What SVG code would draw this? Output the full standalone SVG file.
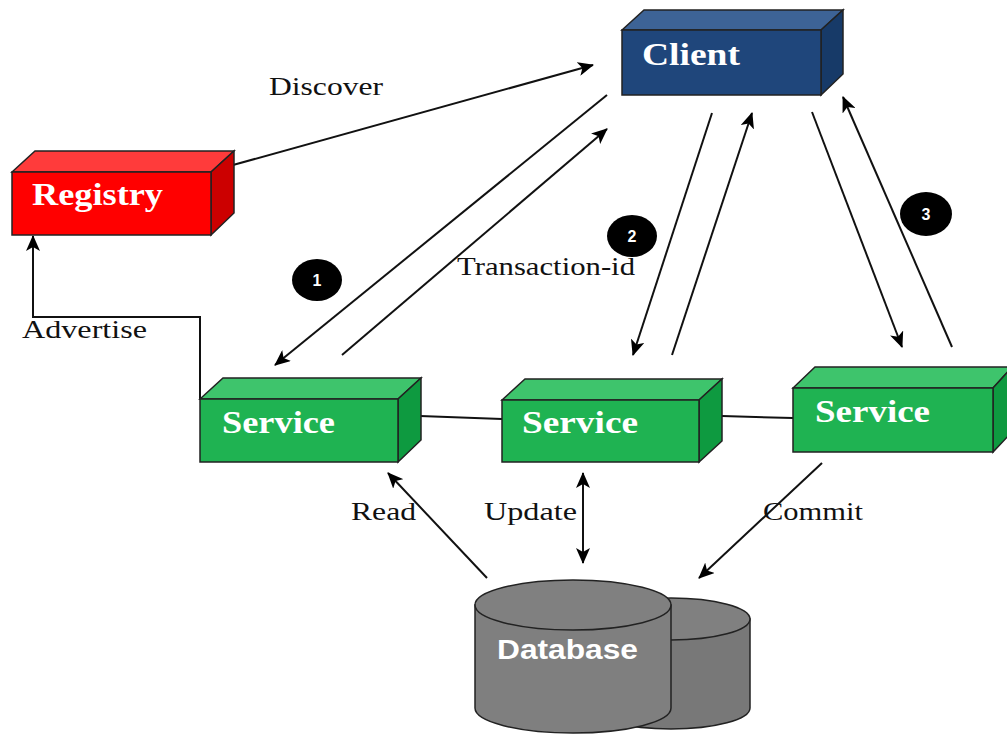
<svg xmlns="http://www.w3.org/2000/svg" width="1007" height="740" viewBox="0 0 1007 740">
<style>
.ln{stroke:#111;stroke-width:2;fill:none}
.lbl{font-family:"Liberation Serif",serif;font-size:26px;fill:#111}
.ttl{font-family:"Liberation Serif",serif;font-size:31px;font-weight:bold;fill:#fff}
.edge{stroke:#222;stroke-width:1.5}
.badge{fill:#000}
.num{font-family:"Liberation Sans",sans-serif;font-size:16px;font-weight:bold;fill:#fff;text-anchor:middle}
</style>
<defs>
<marker id="ah" markerUnits="userSpaceOnUse" markerWidth="16" markerHeight="14" refX="15" refY="7" orient="auto-start-reverse" viewBox="0 0 16 14">
<path d="M0,0 L16,7 L0,14 L4,7 Z" fill="#000"/>
</marker>
</defs>
<rect width="1007" height="740" fill="#fff"/>

<g id="connectors">
<line class="ln" x1="233" y1="165" x2="593" y2="65" marker-end="url(#ah)"/>
<line class="ln" x1="607" y1="95" x2="275" y2="365" marker-end="url(#ah)"/>
<line class="ln" x1="342" y1="355" x2="607" y2="129" marker-end="url(#ah)"/>
<line class="ln" x1="712" y1="113" x2="633" y2="355" marker-end="url(#ah)"/>
<line class="ln" x1="672" y1="355" x2="752" y2="113" marker-end="url(#ah)"/>
<line class="ln" x1="812" y1="112" x2="902" y2="347" marker-end="url(#ah)"/>
<line class="ln" x1="952" y1="347" x2="843" y2="97" marker-end="url(#ah)"/>
<polyline class="ln" points="200,400 200,317 33,317 33,236" marker-end="url(#ah)"/>
<line class="ln" x1="487" y1="578" x2="388" y2="473" marker-end="url(#ah)"/>
<line class="ln" x1="583" y1="473" x2="583" y2="563" marker-start="url(#ah)" marker-end="url(#ah)"/>
<line class="ln" x1="822" y1="463" x2="699" y2="578" marker-end="url(#ah)"/>
<line class="ln" x1="420" y1="416" x2="502" y2="419"/>
<line class="ln" x1="722" y1="416" x2="793" y2="418"/>
</g>

<g id="labels">
<text class="lbl" x="269" y="95" textLength="114" lengthAdjust="spacingAndGlyphs">Discover</text>
<text class="lbl" x="457" y="275" textLength="178" lengthAdjust="spacingAndGlyphs">Transaction-id</text>
<text class="lbl" x="22" y="338" textLength="125" lengthAdjust="spacingAndGlyphs">Advertise</text>
<text class="lbl" x="351" y="520" textLength="65" lengthAdjust="spacingAndGlyphs">Read</text>
<text class="lbl" x="484" y="520" textLength="93" lengthAdjust="spacingAndGlyphs">Update</text>
<text class="lbl" x="763" y="520" textLength="100" lengthAdjust="spacingAndGlyphs">Commit</text>
</g>

<g id="client">
<polygon class="edge" points="622,30 644,10 843,10 821,30" fill="#3d6396"/>
<polygon class="edge" points="821,30 843,10 843,74 821,95" fill="#173a68"/>
<rect class="edge" x="622" y="30" width="199" height="65" fill="#1f467b"/>
<text class="ttl" x="642" y="65" textLength="98" lengthAdjust="spacingAndGlyphs">Client</text>
</g>

<g id="registry">
<polygon class="edge" points="12,172 35,151 234,151 211,172" fill="#ff3b3b"/>
<polygon class="edge" points="211,172 234,151 234,213 211,235" fill="#cc0000"/>
<rect class="edge" x="12" y="172" width="199" height="63" fill="#ff0000"/>
<text class="ttl" x="32" y="205" textLength="131" lengthAdjust="spacingAndGlyphs">Registry</text>
</g>

<g id="service1">
<polygon class="edge" points="200,399 223,378 421,378 398,399" fill="#3ec46c"/>
<polygon class="edge" points="398,399 421,378 421,440 398,462" fill="#0e9a40"/>
<rect class="edge" x="200" y="399" width="198" height="63" fill="#1fb352"/>
<text class="ttl" x="222" y="433" textLength="113" lengthAdjust="spacingAndGlyphs">Service</text>
</g>

<g id="service2">
<polygon class="edge" points="502,400 525,379 722,379 699,400" fill="#3ec46c"/>
<polygon class="edge" points="699,400 722,379 722,441 699,462" fill="#0e9a40"/>
<rect class="edge" x="502" y="400" width="197" height="62" fill="#1fb352"/>
<text class="ttl" x="522" y="433" textLength="116" lengthAdjust="spacingAndGlyphs">Service</text>
</g>

<g id="service3">
<polygon class="edge" points="793,388 815,367 1012,367 993,388" fill="#3ec46c"/>
<polygon class="edge" points="993,388 1012,367 1012,432 993,452" fill="#0e9a40"/>
<rect class="edge" x="793" y="388" width="200" height="64" fill="#1fb352"/>
<text class="ttl" x="815" y="422" textLength="115" lengthAdjust="spacingAndGlyphs">Service</text>
</g>

<g id="database">
<path class="edge" d="M592,619 L592,708 A79,21 0 0 0 750,708 L750,619 Z" fill="#787878"/>
<ellipse class="edge" cx="671" cy="619" rx="79" ry="21" fill="#808080"/>
<path class="edge" d="M475,605 L475,708 A98,25 0 0 0 671,708 L671,605 Z" fill="#7f7f7f"/>
<ellipse class="edge" cx="573" cy="605" rx="98" ry="25" fill="#808080"/>
<text x="497" y="659" font-family="Liberation Sans, sans-serif" font-size="28" font-weight="bold" fill="#fff" textLength="141" lengthAdjust="spacingAndGlyphs">Database</text>
</g>

<g id="badge1">
<ellipse class="badge" cx="317" cy="280" rx="25" ry="21"/>
<text class="num" x="317" y="286">1</text>
</g>
<g id="badge2">
<ellipse class="badge" cx="632" cy="236" rx="25" ry="21"/>
<text class="num" x="632" y="242">2</text>
</g>
<g id="badge3">
<ellipse class="badge" cx="926" cy="214" rx="26" ry="22"/>
<text class="num" x="926" y="220">3</text>
</g>
</svg>
